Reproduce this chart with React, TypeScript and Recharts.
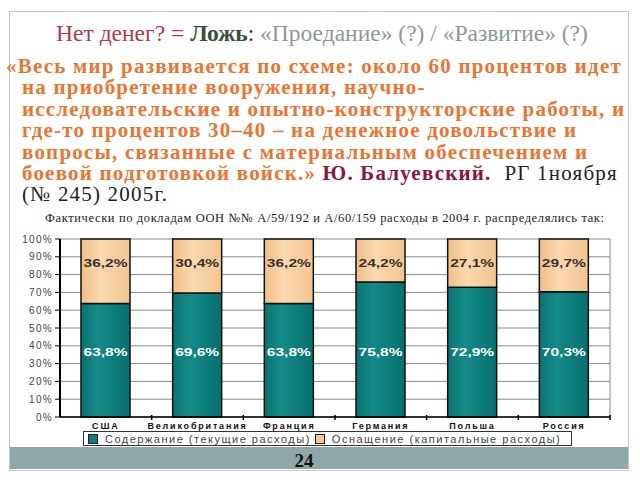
import React from 'react';
import { BarChart, Bar, XAxis, YAxis, CartesianGrid, Legend, LabelList } from 'recharts';

const countries = ['США', 'Великобритания', 'Франция', 'Германия', 'Польша', 'Россия'];
const currentSpending = [63.8, 69.6, 63.8, 75.8, 72.9, 70.3];
const capitalSpending = [36.2, 30.4, 36.2, 24.2, 27.1, 29.7];
const yTicks = [0, 10, 20, 30, 40, 50, 60, 70, 80, 90, 100];
const seriesNames = ['Содержание (текущие расходы)', 'Оснащение (капитальные расходы)'];

const data = countries.map((c, i) => ({
  country: c,
  current: currentSpending[i],
  capital: capitalSpending[i],
}));

const TEAL = '#0c7c79';
const TAN = '#f5c892';
const SANS = '"Liberation Sans", Arial, sans-serif';
const SERIF = '"Liberation Serif", "Times New Roman", serif';

const fmt = (v: number) => String(v).replace('.', ',') + '%';

const makeLabel = (kind: 'current' | 'capital') => (props: any) => {
  const vb = props.viewBox || {};
  const x = Number(props.x ?? vb.x);
  const y = Number(props.y ?? vb.y);
  const w = Number(props.width ?? vb.width);
  const h = Number(props.height ?? vb.height);
  const v = Number(props.value);
  const fullH = (h * 100) / v;
  const ly = kind === 'current' ? y + h - fullH * 0.36 : y + fullH * 0.14;
  return (
    <text
      x={x + w / 2}
      y={ly}
      textAnchor="middle"
      dominantBaseline="central"
      fontFamily={SANS}
      fontWeight="bold"
      fontSize={10}
      textLength={44}
      lengthAdjust="spacingAndGlyphs"
      fill={kind === 'current' ? '#ffffff' : '#3a3030'}
    >
      {fmt(v)}
    </text>
  );
};

const XTick = (props: any) => {
  const { x, y, payload } = props;
  const off = payload && typeof payload.offset === 'number' ? payload.offset : 45.8;
  return (
    <g>
      <line x1={x + off} x2={x + off} y1={y - 10} y2={y - 5} stroke="#000" strokeWidth={1.5} />
      <text
        x={x}
        y={y + 1}
        textAnchor="middle"
        dominantBaseline="central"
        fontFamily={SANS}
        fontWeight="bold"
        fontSize={9}
        letterSpacing={1.8}
        fill="#111"
      >
        {payload.value}
      </text>
    </g>
  );
};

const YTick = (props: any) => {
  const { x, y, payload } = props;
  return (
    <text
      x={x}
      y={y}
      textAnchor="end"
      dominantBaseline="central"
      fontFamily={SANS}
      fontSize={10}
      letterSpacing={1.3}
      fill="#444"
    >
      {payload.value + '%'}
    </text>
  );
};

const sq = (color: string, ml: number, mr: number) => (
  <span style={{ display: 'inline-block', flexShrink: 0, width: 8, height: 8, background: color, border: '1px solid #222', marginLeft: ml, marginRight: mr }} />
);

const LegendBox = () => (
  <div
    style={{
      border: '1px solid #333',
      height: 15,
      display: 'flex',
      alignItems: 'center',
      fontFamily: SANS,
      fontSize: 11,
      letterSpacing: 1.5,
      color: '#444',
      whiteSpace: 'nowrap',
      boxSizing: 'border-box',
      background: '#fff',
      overflow: 'hidden',
    }}
  >
    {sq(TEAL, 4, 7)}
    <span>{seriesNames[0]}</span>
    {sq(TAN, 4, 7)}
    <span>{seriesNames[1]}</span>
  </div>
);

export default function App() {
  return (
    <div style={{ position: 'absolute', left: 0, top: 0, width: 640, height: 480, background: '#fff', overflow: 'hidden' }}>
      <div style={{ position: 'absolute', left: 9, top: 11, width: 618, height: 458, border: '1px solid #c8c8c8' }} />
      <div style={{ position: 'absolute', left: 10, top: 447, width: 618, height: 22, background: '#8ea8a7' }} />
      <div style={{ position: 'absolute', left: 0, top: 450, width: 608, textAlign: 'center', fontFamily: SERIF, fontWeight: 'bold', fontSize: 19, color: '#111' }}>24</div>

      <div style={{ position: 'absolute', left: 0, top: 18, width: 644, textAlign: 'center', fontFamily: SERIF, fontSize: 23.5, lineHeight: '30px', whiteSpace: 'nowrap' }}>
        <span style={{ color: '#b43848' }}>Нет денег? = </span>
        <span style={{ color: '#3b4d3b', fontWeight: 'bold' }}>Ложь</span>
        <span style={{ color: '#333' }}>: </span>
        <span style={{ color: '#8a9a98' }}>«Проедание» (?) / «Развитие» (?)</span>
      </div>

      <div style={{ position: 'absolute', left: 0, top: 56, fontFamily: SERIF, fontWeight: 'bold', fontSize: 21, letterSpacing: 1.2, lineHeight: '21.4px', color: '#ec7430', whiteSpace: 'nowrap' }}>
        <div style={{ paddingLeft: 6 }}>«Весь мир развивается по схеме: около 60 процентов идет</div>
        <div style={{ paddingLeft: 22 }}>на приобретение вооружения, научно-</div>
        <div style={{ paddingLeft: 22 }}>исследовательские и опытно-конструкторские работы, и</div>
        <div style={{ paddingLeft: 22 }}>где-то процентов 30–40 – на денежное довольствие и</div>
        <div style={{ paddingLeft: 22 }}>вопросы, связанные с материальным обеспечением и</div>
        <div style={{ paddingLeft: 22 }}>
          боевой подготовкой войск.»<span style={{ color: '#8e1438' }}> Ю. Балуевский.</span>
          <span style={{ color: '#222', fontWeight: 'normal' }}>{'\u00a0\u00a0'}РГ 1ноября</span>
        </div>
        <div style={{ paddingLeft: 22, color: '#222', fontWeight: 'normal' }}>(№ 245) 2005г.</div>
      </div>

      <div style={{ position: 'absolute', left: 45, top: 210, fontFamily: SERIF, fontSize: 12.5, letterSpacing: 0.62, lineHeight: '16px', color: '#222', whiteSpace: 'nowrap' }}>
        Фактически по докладам ООН №№ A/59/192 и A/60/159 расходы в 2004 г. распределялись так:
      </div>

      <div style={{ position: 'absolute', left: 0, top: 228 }}>
        <BarChart width={640} height={230} data={data} margin={{ top: 11, right: 30, left: 10, bottom: 11 }} barSize={49}>
          <defs>
            <linearGradient id="gTeal" x1="0" y1="0" x2="1" y2="0">
              <stop offset="0%" stopColor="#0a7472" />
              <stop offset="35%" stopColor="#148a87" />
              <stop offset="100%" stopColor="#06706d" />
            </linearGradient>
            <linearGradient id="gTan" x1="0" y1="0" x2="1" y2="0">
              <stop offset="0%" stopColor="#efbf88" />
              <stop offset="40%" stopColor="#fbd8ae" />
              <stop offset="100%" stopColor="#f2c590" />
            </linearGradient>
          </defs>
          <CartesianGrid
            stroke="#8a8a8a"
            strokeWidth={1}
            horizontal={true}
            vertical={true}
            verticalCoordinatesGenerator={(p: any) => [p.offset.left + p.offset.width]}
          />
          <XAxis
            dataKey="country"
            height={14}
            tickLine={false}
            axisLine={{ stroke: '#000', strokeWidth: 1.5 }}
            tick={<XTick />}
            interval={0}
            tickMargin={2}
          />
          <YAxis
            width={50}
            domain={[0, 100]}
            ticks={yTicks}
            tick={<YTick />}
            tickLine={{ stroke: '#000', strokeWidth: 1 }}
            tickSize={5}
            axisLine={{ stroke: '#000', strokeWidth: 2 }}
            interval={0}
          />
          <Legend
            verticalAlign="bottom"
            height={16}
            content={<LegendBox />}
            wrapperStyle={{ left: 83, width: 489 }}
          />
          <Bar dataKey="current" stackId="a" name={seriesNames[0]} fill="url(#gTeal)" stroke="#111" strokeWidth={1.5} isAnimationActive={false}>
            <LabelList dataKey="current" content={makeLabel('current')} />
          </Bar>
          <Bar dataKey="capital" stackId="a" name={seriesNames[1]} fill="url(#gTan)" stroke="#111" strokeWidth={1.5} isAnimationActive={false}>
            <LabelList dataKey="capital" content={makeLabel('capital')} />
          </Bar>
        </BarChart>
      </div>
    </div>
  );
}
